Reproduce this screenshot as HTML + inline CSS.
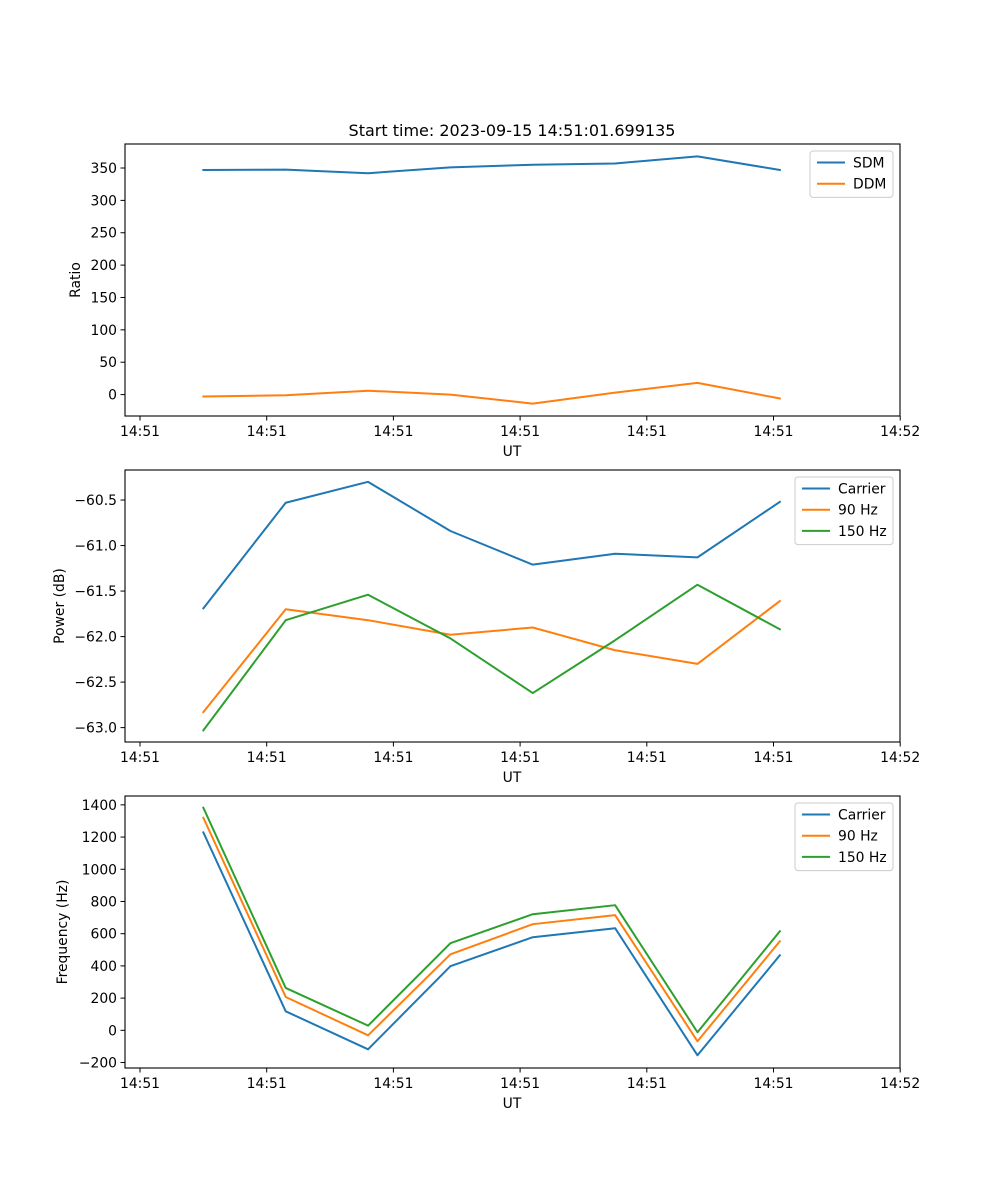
<!DOCTYPE html>
<html><head><meta charset="utf-8">
<style>
html,body{margin:0;padding:0;background:#fff;}
svg{display:block;font-family:"DejaVu Sans","Liberation Sans",sans-serif;}
</style></head>
<body>
<svg id="fig" width="1000" height="1200" viewBox="0 0 1000 1200">
<rect width="1000" height="1200" fill="#fff"/>
<text x="512" y="136" font-size="16" text-anchor="middle">Start time: 2023-09-15 14:51:01.699135</text>
</svg>
<script>
// Shared x data (seconds after 14:51:00)
const times = [5, 11.5, 18, 24.5, 31, 37.5, 44, 50.5];
const xTicks = [0, 10, 20, 30, 40, 50, 60];
const xTickLabels = ["14:51","14:51","14:51","14:51","14:51","14:51","14:52"];

// Panel 1: ratio
const sdm = [347, 347.5, 342, 351, 355, 357, 368, 347];
const ddm = [-3, -1, 6, 0, -14, 3, 18, -6];
const ratioTicks = [0, 50, 100, 150, 200, 250, 300, 350];

// Panel 2: power
const powCarrier = [-61.69, -60.53, -60.30, -60.84, -61.21, -61.09, -61.13, -60.52];
const pow90 = [-62.83, -61.70, -61.82, -61.98, -61.90, -62.15, -62.30, -61.61];
const pow150 = [-63.03, -61.82, -61.54, -62.02, -62.62, -62.04, -61.43, -61.92];
const powTicks = [-63.0, -62.5, -62.0, -61.5, -61.0, -60.5];

// Panel 3: frequency
const freqCarrier = [1229, 118, -118, 398, 578, 634, -155, 466];
const freq90 = [1320, 207, -31, 472, 659, 715, -68, 553];
const freq150 = [1382, 263, 29, 541, 721, 777, -12, 615];
const freqTicks = [-200, 0, 200, 400, 600, 800, 1000, 1200, 1400];

const NS = "http://www.w3.org/2000/svg";
const svg = document.getElementById("fig");
const C = ["#1f77b4", "#ff7f0e", "#2ca02c"];
const X0 = 125, X1 = 900;
const xScale = t => 140 + t * 12.67;

function mk(tag, attrs, parent) {
  const e = document.createElementNS(NS, tag);
  for (const k in attrs) e.setAttribute(k, attrs[k]);
  (parent || svg).appendChild(e);
  return e;
}

function panel(id, top, bottom, ymin, ymax, yTicks, fmt, ylabel, ylabelX, series, names, legend) {
  const g = mk("g", {});
  
  
  const yScale = v => bottom - (v - ymin) / (ymax - ymin) * (bottom - top);
  series.forEach((s, i) => {
    const pts = s.map((v, j) => xScale(times[j]).toFixed(2) + "," + yScale(v).toFixed(2)).join(" ");
    const pl = mk("polyline", {points: pts, fill: "none", stroke: C[i], "stroke-width": 2, "stroke-linejoin": "round", "stroke-linecap": "square"}, g);
    
    
  });
  const fr = mk("rect", {x: X0, y: top, width: X1 - X0, height: bottom - top, fill: "none", stroke: "#000", "stroke-width": 1.1}, g);
  
  
  xTicks.forEach((t, i) => {
    const x = xScale(t);
    mk("line", {x1: x, x2: x, y1: bottom, y2: bottom + 4.5, stroke: "#000", "stroke-width": 1}, g);
    const tx = mk("text", {x: x, y: bottom + 20, "font-size": 13.9, "text-anchor": "middle"}, g);
    tx.textContent = xTickLabels[i];
    
    
  });
  const xl = mk("text", {x: 512, y: bottom + 40, "font-size": 13.9, "text-anchor": "middle"}, g);
  xl.textContent = "UT";
  
  
  yTicks.forEach(v => {
    const y = yScale(v);
    mk("line", {x1: X0 - 4.5, x2: X0, y1: y, y2: y, stroke: "#000", "stroke-width": 1}, g);
    const tx = mk("text", {x: X0 - 8, y: y + 5, "font-size": 13.9, "text-anchor": "end"}, g);
    tx.textContent = fmt(v);
    
    
  });
  const yl = mk("text", {x: ylabelX, y: (top + bottom) / 2, "font-size": 13.9, "text-anchor": "middle", transform: "rotate(-90 " + ylabelX + " " + (top + bottom) / 2 + ")"}, g);
  yl.textContent = ylabel;
  
  
  const lg = mk("g", {}, g);
  
  
  mk("rect", {x: legend.x, y: legend.y, width: legend.w, height: 4 + names.length * 21.2, rx: 3, fill: "#fff", "fill-opacity": 0.8, stroke: "#ccc", "stroke-width": 1}, lg);
  names.forEach((n, i) => {
    const y = legend.y + 11.5 + i * 21.2;
    mk("line", {x1: legend.x + 7, x2: legend.x + 35, y1: y, y2: y, stroke: C[i], "stroke-width": 2}, lg);
    const tx = mk("text", {x: legend.x + 43, y: y + 5, "font-size": 13.9}, lg);
    tx.textContent = n;
    
    
  });
}

panel("ratio", 144, 416, -33.1, 387.1, ratioTicks, v => String(v), "Ratio", 80,
  [sdm, ddm], ["SDM", "DDM"], {x: 810, y: 151, w: 83});
panel("power", 470, 742, -63.158, -60.17, powTicks, v => "\u2212" + Math.abs(v).toFixed(1), "Power (dB)", 64,
  [powCarrier, pow90, pow150], ["Carrier", "90 Hz", "150 Hz"], {x: 795, y: 477, w: 98});
panel("frequency", 796, 1068, -234, 1455, freqTicks, v => v < 0 ? "\u2212" + Math.abs(v) : String(v), "Frequency (Hz)", 67,
  [freqCarrier, freq90, freq150], ["Carrier", "90 Hz", "150 Hz"], {x: 795, y: 803, w: 98});
</script>
</body></html>
